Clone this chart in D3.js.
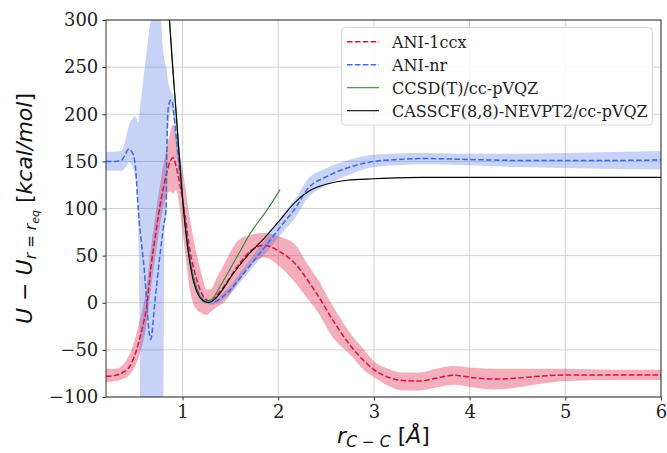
<!DOCTYPE html>
<html>
<head>
<meta charset="utf-8">
<script src="https://cdn.jsdelivr.net/npm/d3@7"></script>
<style>
  body { margin: 0; background: #fff; }
  svg { display: block; }
</style>
</head>
<body>
<svg id="chart"></svg>
<script>
// C–C bond scan: ANI models vs reference methods

// ANI-1ccx: mean and spread
const ccxR  = [0.2, 0.3, 0.375, 0.43, 0.48, 0.52, 0.55, 0.6, 0.62, 0.67, 0.72, 0.775, 0.83, 0.87, 0.9, 0.93, 0.96, 1.0, 1.03, 1.06, 1.13, 1.2, 1.25, 1.29, 1.35, 1.43, 1.57, 1.71, 1.85, 2.02, 2.19, 2.3, 2.4, 2.58, 2.75, 2.9, 3.0, 3.15, 3.3, 3.48, 3.65, 3.83, 4.04, 4.25, 4.5, 4.67, 5.02, 5.5, 6.0];
const ccxE  = [-78, -77, -74, -70, -61, -50, -39, -18, -8, 38, 74, 109, 136, 150, 154, 146, 132, 110, 90, 66, 31, 10, 3, 1, 7, 17, 38, 55, 61, 54, 40, 25, 10, -20, -45, -62, -71, -79, -82.5, -83, -80, -77, -79.5, -81, -80, -78.5, -76.6, -76.6, -76.6];
const ccxLo = [-84, -83, -81, -78, -72, -64, -55, -36, -26, 15, 52, 88, 113, 118, 116, 120, 108, 75, 50, 25, -5, -11, -13, -10, -5, 0, 20, 40, 48, 38, 20, 5, -8, -38, -55, -72, -79, -88, -93, -93, -90, -87, -90, -92, -90, -87, -83, -82, -82];
const ccxHi = [-70, -70, -66, -58, -46, -32, -20, 2, 14, 58, 95, 132, 162, 180, 189, 180, 162, 142, 122, 100, 60, 30, 14, 14, 25, 40, 65, 72, 74, 70, 60, 42, 27, -5, -32, -50, -62, -70, -74, -74, -70, -67, -69, -70, -70, -70, -70, -71, -71];

// ANI-nr: mean
const nrR = [0.2, 0.3, 0.36, 0.4, 0.437, 0.47, 0.496, 0.515, 0.53, 0.6, 0.667, 0.71, 0.76, 0.8, 0.828, 0.836, 0.845, 0.86, 0.88, 0.895, 0.91, 0.93, 0.96, 1.0, 1.044, 1.1, 1.17, 1.25, 1.32, 1.46, 1.64, 1.78, 1.92, 2.05, 2.19, 2.3, 2.51, 2.72, 3.0, 3.25, 3.52, 4.0, 4.5, 5.0, 5.5, 6.0];
const nrE = [150, 150, 151, 157, 163, 160, 153, 135, 110, 35, -39, 0, 47, 80, 100, 160, 200, 212, 215, 212, 200, 180, 150, 112, 68, 33, 10, 1.5, 1, 10, 31, 49, 67, 84, 102, 120, 134, 143, 150, 152, 153, 152, 151, 151, 151, 151.5];

// ANI-nr: spread
const nrBandR  = [0.2, 0.36, 0.42, 0.44, 0.49, 0.5, 0.52, 0.535, 0.548, 0.556, 0.565, 0.58, 0.62, 0.66, 0.69, 0.7, 0.76, 0.775, 0.795, 0.8, 0.805, 0.812, 0.83, 0.845, 0.86, 0.88, 0.9, 0.93, 0.96, 1.0, 1.044, 1.1, 1.17, 1.25, 1.32, 1.46, 1.64, 1.78, 1.92, 2.05, 2.19, 2.3, 2.51, 2.72, 3.0, 3.52, 4.0, 4.5, 5.0, 5.5, 6.0];
const nrBandLo = [140, 140, 146, 149, 141, 135, 122, 95, 0, -100, -150, -150, -150, -150, -150, -150, -150, -150, -150, -100, 0, 80, 100, 170, 195, 205, 200, 168, 140, 105, 62, 29, 7, -1, -2, 6, 26, 43, 59, 75, 92, 110, 125, 135, 144, 147, 146, 144, 143, 142, 141.5];
const nrBandHi = [160, 161, 180, 188, 197, 198, 195, 191, 200, 208, 215, 228, 262, 295, 310, 340, 340, 302, 270, 265, 261, 257, 249, 237, 230, 224, 220, 196, 162, 120, 74, 37, 13, 4, 4, 14, 37, 56, 75, 94, 112, 130, 143, 151, 157, 159, 158, 158, 159, 160, 161];

// CCSD(T)/cc-pVQZ
const ccsdR = [0.84, 0.862, 0.9, 0.93, 0.97, 1.009, 1.044, 1.1, 1.17, 1.22, 1.3, 1.39, 1.57, 1.71, 1.88, 2.02];
const ccsdE = [340, 305, 248, 207, 152, 102, 70, 33, 9, 1, 3, 17, 49, 74, 98, 120];

// CASSCF(8,8)-NEVPT2/cc-pVQZ
const casR = [0.84, 0.862, 0.9, 0.93, 0.97, 1.009, 1.044, 1.096, 1.166, 1.22, 1.27, 1.33, 1.39, 1.53, 1.67, 1.85, 2.02, 2.16, 2.33, 2.51, 2.72, 3.0, 3.5, 4.0, 5.0, 6.0];
const casE = [338, 300, 245, 205, 150, 100, 66, 31, 8, 2, 0, 3, 10, 31, 49, 68, 88, 105, 119, 126, 130, 131.5, 133, 133, 133, 133];

const xTicks = [1, 2, 3, 4, 5, 6];
const yTicks = [-100, -50, 0, 50, 100, 150, 200, 250, 300];
const legendLabels = ["ANI-1ccx", "ANI-nr", "CCSD(T)/cc-pVQZ", "CASSCF(8,8)-NEVPT2/cc-pVQZ"];

(function () {
  const W = 667, H = 453;
  const M = { top: 20, right: 6, bottom: 56, left: 106 };
  const innerW = W - M.left - M.right;
  const innerH = H - M.top - M.bottom;

  const RED = "#dc143c";
  const BLUE = "#4169e1";
  const GREEN = "#2a8a2a";
  const BLACK = "#000";
  const SERIF = "'DejaVu Serif', serif";
  const MATH = "'DejaVu Sans', sans-serif";

  const svg = d3.select("#chart").attr("width", W).attr("height", H);

  const x = d3.scaleLinear().domain([0.2, 6]).range([M.left, M.left + innerW]);
  const y = d3.scaleLinear().domain([-100, 300]).range([M.top + innerH, M.top]);

  svg.append("clipPath").attr("id", "plot")
    .append("rect")
    .attr("x", M.left).attr("y", M.top)
    .attr("width", innerW).attr("height", innerH);

  // ---- Grid ----
  const grid = svg.append("g").attr("stroke", "#d2d2d2").attr("stroke-width", 1);
  xTicks.forEach(t => {
    grid.append("line")
      .attr("x1", x(t)).attr("x2", x(t))
      .attr("y1", M.top).attr("y2", M.top + innerH);
  });
  yTicks.forEach(t => {
    grid.append("line")
      .attr("x1", M.left).attr("x2", M.left + innerW)
      .attr("y1", y(t)).attr("y2", y(t));
  });

  // ---- Data ----
  const rows = (rs, es) => rs.map((r, i) => ({ r, e: es[i] }));
  const bandRows = (rs, lo, hi) => rs.map((r, i) => ({ r, lo: lo[i], hi: hi[i] }));

  const line = d3.line().x(d => x(d.r)).y(d => y(d.e)).curve(d3.curveMonotoneX);
  const area = d3.area().x(d => x(d.r)).y0(d => y(d.lo)).y1(d => y(d.hi)).curve(d3.curveMonotoneX);

  const plot = svg.append("g").attr("clip-path", "url(#plot)");

  plot.append("path").datum(bandRows(ccxR, ccxLo, ccxHi))
    .attr("fill", RED).attr("fill-opacity", 0.35).attr("d", area);

  plot.append("path").datum(bandRows(nrBandR, nrBandLo, nrBandHi))
    .attr("fill", BLUE).attr("fill-opacity", 0.3).attr("d", area);

  plot.append("path").datum(rows(ccxR, ccxE))
    .attr("fill", "none").attr("stroke", RED)
    .attr("stroke-width", 1.5).attr("stroke-dasharray", "5.5 2.4")
    .attr("d", line);

  plot.append("path").datum(rows(nrR, nrE))
    .attr("fill", "none").attr("stroke", BLUE)
    .attr("stroke-width", 1.5).attr("stroke-dasharray", "5.5 2.4")
    .attr("d", line);

  plot.append("path").datum(rows(ccsdR, ccsdE))
    .attr("fill", "none").attr("stroke", GREEN)
    .attr("stroke-width", 1.1).attr("d", line);

  plot.append("path").datum(rows(casR, casE))
    .attr("fill", "none").attr("stroke", BLACK)
    .attr("stroke-width", 1.1).attr("d", line);

  // ---- Axes ----
  const xAxis = svg.append("g")
    .attr("transform", `translate(0,${M.top + innerH})`)
    .call(d3.axisBottom(x).tickValues(xTicks).tickSize(3.5).tickPadding(4.5).tickFormat(d3.format("d")));

  const yAxis = svg.append("g")
    .attr("transform", `translate(${M.left},0)`)
    .call(d3.axisLeft(y).tickValues(yTicks).tickSize(3.5).tickPadding(4.2));

  [xAxis, yAxis].forEach(a => {
    a.select(".domain").remove();
    a.selectAll(".tick line").attr("stroke", "#333");
    a.selectAll(".tick text")
      .attr("fill", "#222")
      .style("font-family", SERIF)
      .style("font-size", "18px");
  });

  // frame
  svg.append("rect")
    .attr("x", M.left).attr("y", M.top)
    .attr("width", innerW).attr("height", innerH)
    .attr("fill", "none").attr("stroke", "#333").attr("stroke-width", 1);

  // ---- Axis labels ----
  const xl = svg.append("text")
    .attr("x", M.left + innerW / 2).attr("y", 443)
    .attr("text-anchor", "middle")
    .style("font-family", MATH).style("font-size", "22px")
    .attr("fill", "#111");
  xl.append("tspan").attr("font-style", "italic").text("r");
  xl.append("tspan").attr("font-style", "italic").attr("font-size", "15.5px").attr("dy", 4).text("C − C");
  xl.append("tspan").attr("dy", -4).text(" [");
  xl.append("tspan").attr("font-style", "italic").text("Å");
  xl.append("tspan").text("]");

  const yl = svg.append("text")
    .attr("transform", `translate(32,${M.top + innerH / 2}) rotate(-90)`)
    .attr("text-anchor", "middle")
    .style("font-family", MATH).style("font-size", "22px")
    .attr("fill", "#111");
  yl.append("tspan").attr("font-style", "italic").text("U");
  yl.append("tspan").text(" − ");
  yl.append("tspan").attr("font-style", "italic").text("U");
  yl.append("tspan").attr("font-style", "italic").attr("font-size", "15.5px").attr("dy", 4).text("r");
  yl.append("tspan").attr("font-size", "15.5px").text(" = ");
  yl.append("tspan").attr("font-style", "italic").attr("font-size", "15.5px").text("r");
  yl.append("tspan").attr("font-style", "italic").attr("font-size", "11px").attr("dy", 3).text("eq");
  yl.append("tspan").attr("dy", -7).text("  [");
  yl.append("tspan").attr("font-style", "italic").text("kcal/mol");
  yl.append("tspan").text("]");

  // ---- Legend ----
  const lg = svg.append("g");
  lg.append("rect")
    .attr("x", 341.5).attr("y", 27.5)
    .attr("width", 311).attr("height", 97.5)
    .attr("rx", 4)
    .attr("fill", "#fff").attr("fill-opacity", 0.85)
    .attr("stroke", "#d6d6d6").attr("stroke-width", 1);

  const styles = [
    { color: RED, dash: "5.5 2.4", w: 1.5 },
    { color: BLUE, dash: "5.5 2.4", w: 1.5 },
    { color: GREEN, dash: null, w: 1.1 },
    { color: BLACK, dash: null, w: 1.1 }
  ];
  legendLabels.forEach((lab, i) => {
    const cy = 41.7 + i * 23;
    lg.append("line")
      .attr("x1", 347).attr("x2", 379)
      .attr("y1", cy).attr("y2", cy)
      .attr("stroke", styles[i].color)
      .attr("stroke-width", styles[i].w)
      .attr("stroke-dasharray", styles[i].dash);
    lg.append("text")
      .attr("x", 392).attr("y", cy + 5.8)
      .style("font-family", SERIF).style("font-size", "16px")
      .attr("fill", "#222")
      .text(lab);
  });
})();
</script>
</body>
</html>
